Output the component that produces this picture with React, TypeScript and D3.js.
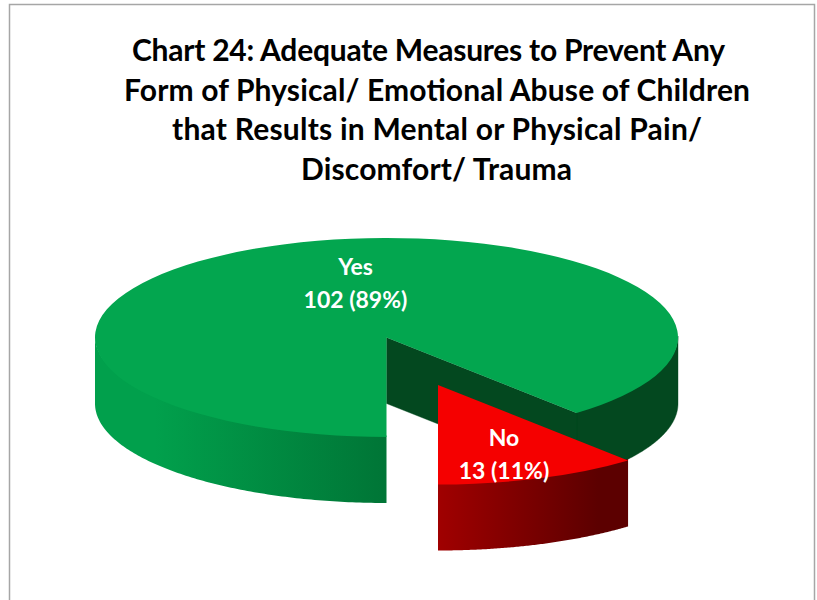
import React from 'react';
import * as d3 from 'd3';

const width = 817;
const height = 600;

const titleLines = [
  'Chart 24: Adequate Measures to Prevent Any',
  'Form of Physical/ Emotional Abuse of Children',
  'that Results in Mental or Physical Pain/',
  'Discomfort/ Trauma',
];
const titleCenters = [428.5, 437, 437, 436.5];
const titleLengths = [593, 626, 530, 271];
const categories = ['Yes', 'No'];
const counts = [102, 13];
const percents = [89, 11];
const topColors = ['#03a64f', '#f50000'];
const wallFrom = ['#01a04c', '#a00000'];
const wallTo = ['#007536', '#5c0000'];

// pie geometry, squashed to fake the 3D tilt
const cx = 386.5;
const cy = 337.5;
const rx = 291.5;
const ry = 99.5;
const depth = 66;
const explode = [
  { dx: 0, dy: 0 },
  { dx: 51.5, dy: 47.5 },
];
const labelPos = [
  { x: 355.5, y: 267 },
  { x: 504, y: 438 },
];

const pie = d3
  .pie<number>()
  .sort(null)
  .startAngle(Math.PI)
  .endAngle(3 * Math.PI);
const slices = pie(counts);

const px = (a: number) => rx * Math.sin(a);
const py = (a: number) => -ry * Math.cos(a);

const arcGen = d3.arc<any>().innerRadius(0).outerRadius(rx);

// outer rim between two angles, top edge tucked under the slice top
const rim = d3
  .area<number>()
  .x(a => px(a))
  .y0(a => py(a) + depth)
  .y1(a => py(a) - 1.5);

const rimPath = (a0: number, a1: number) => rim(d3.range(0, 121).map(i => a0 + ((a1 - a0) * i) / 120));

// flat cut face running from the pie centre out to the rim
const cutFace = (a: number) =>
  d3
    .area<number>()
    .x(t => t * px(a))
    .y0(t => t * py(a) + depth)
    .y1(t => t * py(a))([0, 1]);

const App = () => {
  const [yes, no] = slices;
  const fontFamily = 'Lato, "Open Sans", sans-serif';

  return (
    <svg width={width} height={height} style={{ position: 'absolute', left: 0, top: 0, background: '#fff' }}>
      <defs>
        {categories.map((c, i) => (
          <linearGradient
            key={c}
            id={`wall-${i}`}
            gradientUnits="userSpaceOnUse"
            x1={i === 0 ? -rx + 60 : 0}
            x2={i === 0 ? 0 : px(slices[i].startAngle) - 30}
            y1={0}
            y2={0}
          >
            <stop offset="0" stopColor={wallFrom[i]} />
            <stop offset="1" stopColor={wallTo[i]} />
          </linearGradient>
        ))}
      </defs>

      <path d={`M9.5,${height}V4.5H814.5V${height}`} fill="none" stroke="#a6a6a6" strokeWidth={1.5} />

      <text fontFamily={fontFamily} fontWeight={700} fontSize={30} textAnchor="middle" fill="#000">
        {titleLines.map((line, i) => (
          <tspan
            key={line}
            x={titleCenters[i]}
            y={61 + i * 39.5}
            textLength={titleLengths[i]}
            lengthAdjust="spacing"
          >
            {line}
          </tspan>
        ))}
      </text>

      {/* Yes slice, back parts first */}
      <g transform={`translate(${cx},${cy})`}>
        <path
          d={`${rimPath(Math.PI / 2, yes.endAngle - 2 * Math.PI)}${cutFace(yes.endAngle)}`}
          fill="#03481f"
          stroke="#03481f"
          strokeWidth={0.4}
        />
        <path d={rimPath(Math.PI, (3 * Math.PI) / 2) ?? ''} fill="url(#wall-0)" />
        <path d={arcGen(yes) ?? ''} transform={`scale(1,${ry / rx})`} fill={topColors[0]} />
      </g>

      {/* No slice pulled out of the pie */}
      <g transform={`translate(${cx + explode[1].dx},${cy + explode[1].dy})`}>
        <path d={rimPath(no.startAngle, no.endAngle) ?? ''} fill="url(#wall-1)" />
        <path d={arcGen(no) ?? ''} transform={`scale(1,${ry / rx})`} fill={topColors[1]} />
      </g>

      <text fontFamily={fontFamily} fontWeight={700} fontSize={23} textAnchor="middle" fill="#fff">
        {categories.map((c, i) => (
          <React.Fragment key={c}>
            <tspan x={labelPos[i].x} y={labelPos[i].y + 8}>
              {c}
            </tspan>
            <tspan x={labelPos[i].x} y={labelPos[i].y + 41}>
              {`${counts[i]} (${percents[i]}%)`}
            </tspan>
          </React.Fragment>
        ))}
      </text>
    </svg>
  );
};

export default App;
